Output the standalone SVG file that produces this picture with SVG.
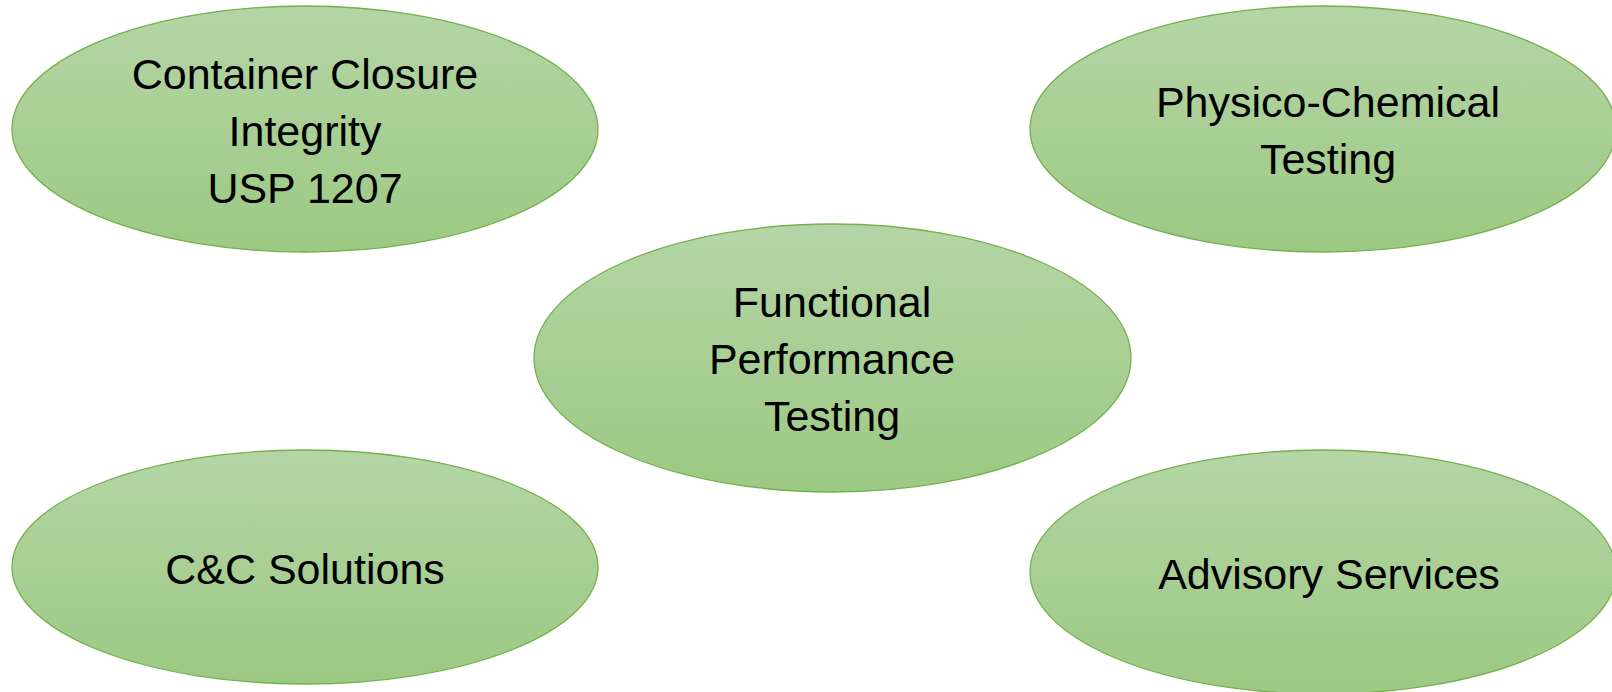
<svg xmlns="http://www.w3.org/2000/svg" width="1612" height="692" viewBox="0 0 1612 692">
<defs>
<linearGradient id="g" x1="0" y1="0" x2="0" y2="1">
<stop offset="0" stop-color="#b5d5a6"/>
<stop offset="1" stop-color="#9cc983"/>
</linearGradient>
<style>
.n{fill:url(#g);stroke:#74b04c;stroke-width:1.3}
.t{font-family:"Liberation Sans",Arial,sans-serif;font-size:43px;fill:#000;text-anchor:middle}
</style>
</defs>
<rect width="1612" height="692" fill="#fff"/>
<g id="connectors"/>
<g id="node-cci">
<ellipse class="n" cx="305" cy="129" rx="293" ry="123"/>
<text class="t" x="305" y="89">Container Closure</text>
<text class="t" x="305" y="146">Integrity</text>
<text class="t" x="305" y="203">USP 1207</text>
</g>
<g id="node-physico">
<ellipse class="n" cx="1323" cy="129" rx="293" ry="123"/>
<text class="t" x="1328" y="117">Physico-Chemical</text>
<text class="t" x="1328" y="174">Testing</text>
</g>
<g id="node-functional">
<ellipse class="n" cx="832.5" cy="358" rx="298.5" ry="134"/>
<text class="t" x="832" y="317">Functional</text>
<text class="t" x="832" y="374">Performance</text>
<text class="t" x="832" y="431">Testing</text>
</g>
<g id="node-cc">
<ellipse class="n" cx="305" cy="567" rx="293" ry="117"/>
<text class="t" x="305" y="584">C&amp;C Solutions</text>
</g>
<g id="node-advisory">
<ellipse class="n" cx="1323" cy="572" rx="293" ry="122"/>
<text class="t" x="1329" y="589">Advisory Services</text>
</g>
</svg>
